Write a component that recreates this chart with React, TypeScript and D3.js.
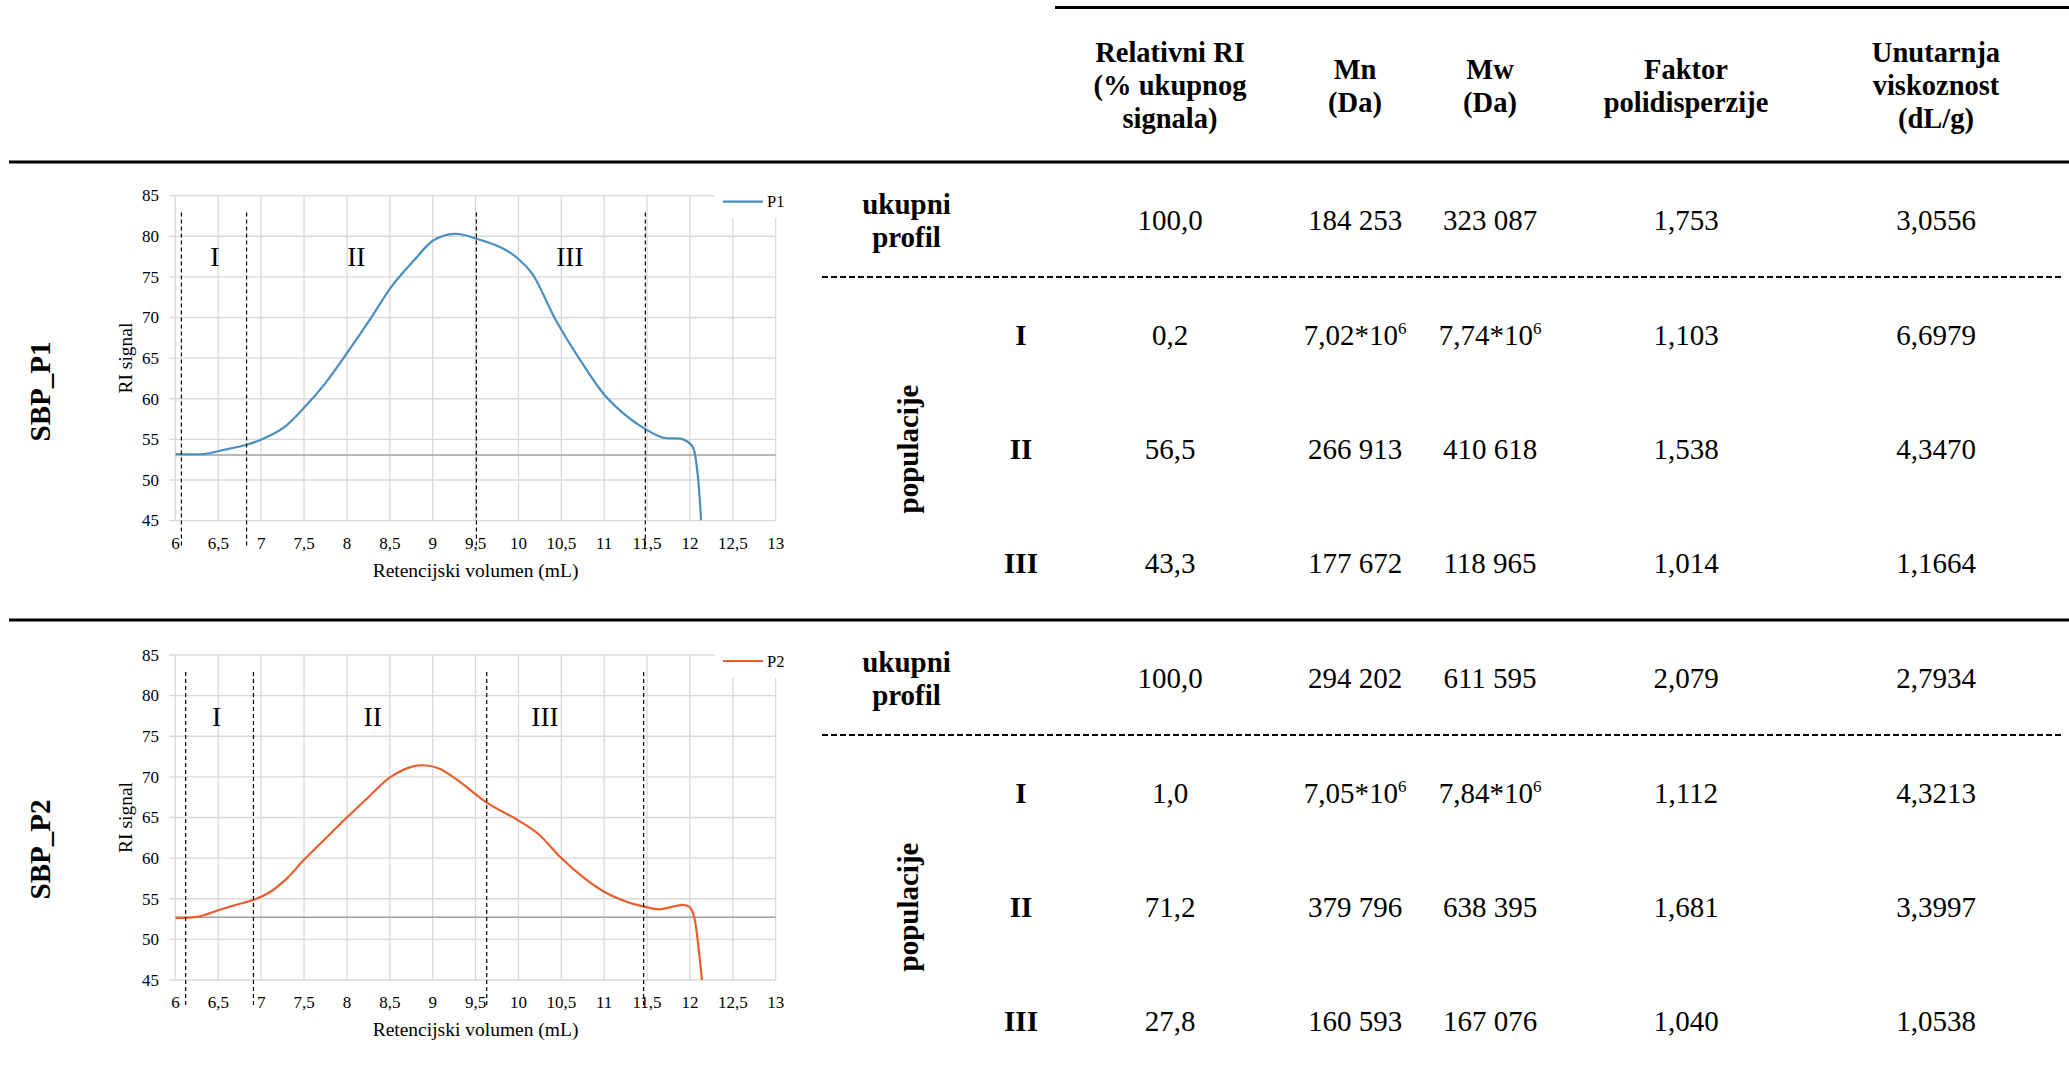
import React from "react";
import * as d3 from "d3";

const FONT = "'Liberation Serif','Times New Roman',serif";

const xTicks = [6, 6.5, 7, 7.5, 8, 8.5, 9, 9.5, 10, 10.5, 11, 11.5, 12, 12.5, 13];
const yTicks = [45, 50, 55, 60, 65, 70, 75, 80, 85];

const p1Volume = [6.0, 6.34, 6.52, 6.85, 7.01, 7.27, 7.51, 7.74, 8.0, 8.26, 8.52, 8.78, 9.01, 9.25, 9.54, 9.82, 10.0, 10.16, 10.44, 10.7, 11.01, 11.27, 11.49, 11.69, 11.92, 12.03, 12.08, 12.13];
const p1Signal = [53.2, 53.2, 53.6, 54.4, 55.0, 56.5, 59.0, 61.8, 65.6, 69.6, 73.8, 77.0, 79.5, 80.3, 79.6, 78.5, 77.2, 75.4, 69.6, 65.1, 60.4, 57.8, 56.2, 55.2, 55.0, 54.1, 51.6, 45.0];

const p2Volume = [6.0, 6.27, 6.49, 6.69, 6.92, 7.1, 7.31, 7.49, 7.73, 7.99, 8.25, 8.51, 8.77, 8.93, 9.08, 9.29, 9.65, 9.99, 10.23, 10.49, 10.75, 11.01, 11.27, 11.48, 11.64, 11.79, 11.92, 12.0, 12.05, 12.1, 12.14];
const p2Signal = [52.65, 52.8, 53.55, 54.2, 54.9, 55.8, 57.6, 59.7, 62.2, 64.9, 67.5, 70.0, 71.3, 71.4, 71.0, 69.6, 66.7, 64.7, 63.0, 60.1, 57.7, 55.8, 54.6, 54.0, 53.7, 54.0, 54.25, 53.95, 52.7, 49.0, 45.0];

const p1Cuts = [6.07, 6.83, 9.51, 11.48];
const p2Cuts = [6.12, 6.91, 9.63, 11.46];
const regionNames = ["I", "II", "III"];
const p1RegionPos = [6.46, 8.11, 10.6];
const p2RegionPos = [6.48, 8.3, 10.31];
const p1Base = 53.06;
const p2Base = 52.73;

const headers = [
  ["Relativni RI", "(% ukupnog", "signala)"],
  ["Mn", "(Da)"],
  ["Mw", "(Da)"],
  ["Faktor", "polidisperzije"],
  ["Unutarnja", "viskoznost", "(dL/g)"],
];
const colX = [1170, 1355, 1490, 1686, 1936];

const relRI_P1 = ["100,0", "0,2", "56,5", "43,3"];
const mn_P1 = ["184 253", "7,02*10^6", "266 913", "177 672"];
const mw_P1 = ["323 087", "7,74*10^6", "410 618", "118 965"];
const pdi_P1 = ["1,753", "1,103", "1,538", "1,014"];
const iv_P1 = ["3,0556", "6,6979", "4,3470", "1,1664"];

const relRI_P2 = ["100,0", "1,0", "71,2", "27,8"];
const mn_P2 = ["294 202", "7,05*10^6", "379 796", "160 593"];
const mw_P2 = ["611 595", "7,84*10^6", "638 395", "167 076"];
const pdi_P2 = ["2,079", "1,112", "1,681", "1,040"];
const iv_P2 = ["2,7934", "4,3213", "3,3997", "1,0538"];

const rowOffsets = [58, 173.5, 287, 401];

function Chart({ top, vol, sig, color, name, cuts, regionPos, base, id }: any) {
  const x = d3.scaleLinear().domain([6, 13]).range([175.4, 775.7]);
  const bottom = top + 325;
  const y = d3.scaleLinear().domain([45, 85]).range([bottom, top]);
  const line = d3
    .line<number>()
    .x((_d, i) => x(vol[i]))
    .y((d) => y(d))
    .curve(d3.curveCatmullRom.alpha(0.5));
  const fmt = (v: number) => String(v).replace(".", ",");
  const tf = { fontFamily: FONT, fill: "#000" };
  return (
    <g>
      <defs>
        <clipPath id={id}>
          <rect x={x(6)} y={top - 5} width={x(13) - x(6)} height={bottom - top + 5} />
        </clipPath>
      </defs>
      {yTicks.map((t) => (
        <line key={"h" + t} x1={x(6) - 6} x2={x(13)} y1={y(t)} y2={y(t)} stroke="#d9d9d9" strokeWidth={1.3} />
      ))}
      {xTicks.map((t) => (
        <line key={"v" + t} x1={x(t)} x2={x(t)} y1={y(85)} y2={bottom} stroke="#d9d9d9" strokeWidth={1.3} />
      ))}
      <rect x={715} y={top - 20} width={90} height={42.7} fill="#fff" />
      <line x1={x(6)} x2={x(13)} y1={y(base)} y2={y(base)} stroke="#a0a0a0" strokeWidth={1.5} />
      <path d={line(sig) || ""} fill="none" stroke={color} strokeWidth={2.2} clipPath={`url(#${id})`} />
      {cuts.map((c: number) => (
        <line key={"c" + c} x1={x(c)} x2={x(c)} y1={top + 17} y2={bottom + 25} stroke="#000" strokeWidth={1.2} strokeDasharray="4,3" />
      ))}
      {regionPos.map((p: number, i: number) => (
        <text key={"r" + i} x={x(p)} y={top + 61 + 9.5} textAnchor="middle" fontSize={27.5} {...tf}>
          {regionNames[i]}
        </text>
      ))}
      {yTicks.map((t) => (
        <text key={"yl" + t} x={159} y={y(t) + 5.8} textAnchor="end" fontSize={17} {...tf}>
          {fmt(t)}
        </text>
      ))}
      {xTicks.map((t) => (
        <text key={"xl" + t} x={x(t)} y={bottom + 28} textAnchor="middle" fontSize={17} {...tf}>
          {fmt(t)}
        </text>
      ))}
      <text x={(x(6) + x(13)) / 2} y={bottom + 56} textAnchor="middle" fontSize={19.5} {...tf}>
        Retencijski volumen (mL)
      </text>
      <text transform={`translate(132,${(top + bottom) / 2}) rotate(-90)`} textAnchor="middle" fontSize={19.5} {...tf}>
        RI signal
      </text>
      <line x1={723} x2={763} y1={top + 6} y2={top + 6} stroke={color} strokeWidth={2.2} />
      <text x={767} y={top + 11.5} fontSize={16.5} {...tf}>
        {name}
      </text>
    </g>
  );
}

function Cell({ x, y, v, bold }: { x: number; y: number; v: string; bold?: boolean }) {
  const parts = v.split("^");
  return (
    <text x={x} y={y} textAnchor="middle" fontSize={29} fontFamily={FONT} fontWeight={bold ? "bold" : "normal"} fill="#000">
      {parts[0]}
      {parts.length > 1 && (
        <tspan dy={-11} fontSize={17}>
          {parts[1]}
        </tspan>
      )}
    </text>
  );
}

function Section({ top, label, cols }: { top: number; label: string; cols: string[][] }) {
  return (
    <g>
      <text transform={`translate(50,${top + 229.5}) rotate(-90)`} textAnchor="middle" fontSize={29} fontWeight="bold" fontFamily={FONT}>
        {label}
      </text>
      <text x={906.5} y={top + 42.5 + 9.5} textAnchor="middle" fontSize={29} fontWeight="bold" fontFamily={FONT}>
        ukupni
      </text>
      <text x={906.5} y={top + 75.5 + 9.5} textAnchor="middle" fontSize={29} fontWeight="bold" fontFamily={FONT}>
        profil
      </text>
      <line x1={822} x2={2062} y1={top + 115} y2={top + 115} stroke="#000" strokeWidth={2} strokeDasharray="6,3" />
      <text transform={`translate(918,${top + 287}) rotate(-90)`} textAnchor="middle" fontSize={29} fontWeight="bold" fontFamily={FONT}>
        populacije
      </text>
      {regionNames.map((r, i) => (
        <Cell key={r} x={1021} y={top + rowOffsets[i + 1] + 9.5} v={r} bold />
      ))}
      {cols.map((col, ci) =>
        col.map((v, ri) => <Cell key={ci + "-" + ri} x={colX[ci]} y={top + rowOffsets[ri] + 9.5} v={v} />)
      )}
    </g>
  );
}

export default function App() {
  return (
    <div style={{ position: "absolute", left: 0, top: 0 }}>
      <svg width={2069} height={1075} style={{ display: "block", background: "#fff" }}>
        <rect width={2069} height={1075} fill="#fff" />
        <line x1={1055} x2={2069} y1={7.5} y2={7.5} stroke="#000" strokeWidth={3} />
        {headers.map((h, ci) => {
          const n = h.length;
          return h.map((t, li) => (
            <text
              key={ci + "-" + li}
              x={colX[ci]}
              y={85.8 + (li - (n - 1) / 2) * 33 + 9.5}
              textAnchor="middle"
              fontSize={28.5}
              fontWeight="bold"
              fontFamily={FONT}
            >
              {t}
            </text>
          ));
        })}
        <line x1={9} x2={2069} y1={162} y2={162} stroke="#000" strokeWidth={3} />
        <line x1={9} x2={2069} y1={620} y2={620} stroke="#000" strokeWidth={3} />
        <Chart id="c1" top={195.6} vol={p1Volume} sig={p1Signal} color="#4a8ec0" name="P1" cuts={p1Cuts} regionPos={p1RegionPos} base={p1Base} />
        <Chart id="c2" top={655} vol={p2Volume} sig={p2Signal} color="#ea5e2c" name="P2" cuts={p2Cuts} regionPos={p2RegionPos} base={p2Base} />
        <Section top={162} label="SBP_P1" cols={[relRI_P1, mn_P1, mw_P1, pdi_P1, iv_P1]} />
        <Section top={620} label="SBP_P2" cols={[relRI_P2, mn_P2, mw_P2, pdi_P2, iv_P2]} />
      </svg>
    </div>
  );
}
